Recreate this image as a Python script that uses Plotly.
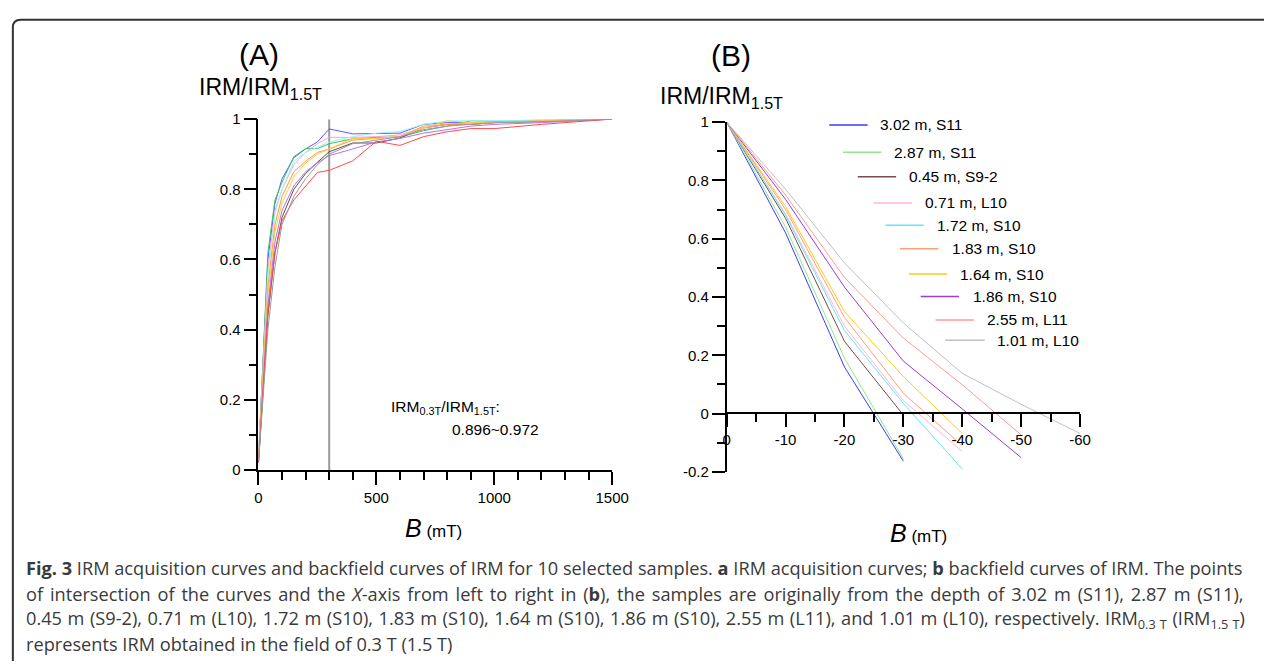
import plotly.graph_objects as go

W, H = 1281, 669

# ---------------- data ----------------
samples = ["3.02 m, S11", "2.87 m, S11", "0.45 m, S9-2", "0.71 m, L10", "1.72 m, S10",
           "1.83 m, S10", "1.64 m, S10", "1.86 m, S10", "2.55 m, L11", "1.01 m, L10"]

# Panel A: IRM acquisition (field in mT)
fields_a = [0, 20, 40, 70, 100, 150, 200, 250, 300, 400, 500, 600, 700, 800, 900, 1000, 1200, 1500]
irm_302 = [0.03, 0.31, 0.60, 0.76, 0.83, 0.89, 0.915, 0.935, 0.972, 0.958, 0.958, 0.960, 0.985, 0.990, 0.990, 0.992, 0.995, 1.0]
irm_287 = [0.03, 0.33, 0.62, 0.77, 0.82, 0.893, 0.916, 0.916, 0.930, 0.944, 0.948, 0.949, 0.967, 0.980, 0.995, 0.995, 0.997, 1.0]
irm_045 = [0.02, 0.22, 0.44, 0.62, 0.72, 0.80, 0.845, 0.877, 0.907, 0.932, 0.932, 0.946, 0.975, 0.985, 0.985, 0.990, 0.993, 1.0]
irm_071 = [0.03, 0.29, 0.57, 0.74, 0.80, 0.87, 0.905, 0.930, 0.948, 0.948, 0.950, 0.955, 0.975, 0.985, 0.990, 0.992, 0.995, 1.0]
irm_172 = [0.03, 0.28, 0.55, 0.73, 0.80, 0.88, 0.905, 0.920, 0.935, 0.950, 0.960, 0.965, 0.985, 0.995, 0.995, 0.995, 0.997, 1.0]
irm_183 = [0.03, 0.26, 0.52, 0.70, 0.78, 0.85, 0.880, 0.905, 0.915, 0.940, 0.945, 0.950, 0.980, 0.985, 0.985, 0.990, 0.995, 1.0]
irm_164 = [0.03, 0.25, 0.50, 0.68, 0.76, 0.835, 0.875, 0.900, 0.915, 0.945, 0.945, 0.950, 0.975, 0.995, 0.990, 0.990, 0.995, 1.0]
irm_186 = [0.02, 0.24, 0.47, 0.65, 0.74, 0.81, 0.850, 0.875, 0.896, 0.915, 0.935, 0.945, 0.960, 0.970, 0.980, 0.985, 0.990, 1.0]
irm_255 = [0.02, 0.23, 0.45, 0.62, 0.71, 0.77, 0.810, 0.848, 0.854, 0.881, 0.937, 0.925, 0.950, 0.964, 0.973, 0.973, 0.985, 1.0]
irm_101 = [0.02, 0.20, 0.40, 0.58, 0.70, 0.78, 0.830, 0.870, 0.900, 0.930, 0.940, 0.950, 0.970, 0.980, 0.985, 0.990, 0.993, 1.0]
irm_series = [irm_302, irm_287, irm_045, irm_071, irm_172, irm_183, irm_164, irm_186, irm_255, irm_101]

# Panel B: backfield (field in mT)
fields_b = [0, -10, -20, -30, -40, -50, -60]
bf_302 = [1.0, 0.62, 0.160, -0.163]
bf_287 = [1.0, 0.64, 0.190, -0.155]
bf_045 = [1.0, 0.67, 0.248, -0.005]
bf_071 = [1.0, 0.685, 0.300, 0.045, -0.130]
bf_172 = [1.0, 0.68, 0.285, 0.035, -0.190]
bf_183 = [1.0, 0.70, 0.330, 0.070, -0.110]
bf_164 = [1.0, 0.71, 0.350, 0.127, -0.068]
bf_186 = [1.0, 0.735, 0.434, 0.180, 0.016, -0.151]
bf_255 = [1.0, 0.75, 0.467, 0.259, 0.099, -0.073]
bf_101 = [1.0, 0.77, 0.517, 0.311, 0.138, 0.032, -0.068]
bf_series = [bf_302, bf_287, bf_045, bf_071, bf_172, bf_183, bf_164, bf_186, bf_255, bf_101]

# ticks
xa_ticks = [0, 500, 1000, 1500]
xa_ticklabels = ["0", "500", "1000", "1500"]
ya_ticks = [0, 0.2, 0.4, 0.6, 0.8, 1]
ya_ticklabels = ["0", "0.2", "0.4", "0.6", "0.8", "1"]
xb_ticks = [0, -10, -20, -30, -40, -50, -60]
xb_ticklabels = ["0", "-10", "-20", "-30", "-40", "-50", "-60"]
yb_ticks = [-0.2, 0, 0.2, 0.4, 0.6, 0.8, 1]
yb_ticklabels = ["-0.2", "0", "0.2", "0.4", "0.6", "0.8", "1"]
field_03T = 300

# ---------------- style ----------------
col_a = ["#5a5aff", "#3cbf6a", "#505050", "#ff9fd0", "#9af5f5", "#ff9a3c", "#ffcc44", "#bb6ef0", "#ff4a4a", "#9a9a9a"]
col_b = ["#3b3bff", "#8ee88e", "#7a4a4a", "#ffb6dc", "#5fe8f5", "#ff9f78", "#ffcc11", "#9b3bd8", "#ff9a9a", "#c0c0c0"]
FONT = "Liberation Sans, Arial, sans-serif"


def px(x):
    return x / W


def py(y):
    return 1 - y / H


fig = go.Figure()

for s, c, name in zip(irm_series, col_a, samples):
    fig.add_trace(go.Scatter(x=fields_a[:len(s)], y=s, mode="lines", line=dict(color=c, width=1),
                             name=name, showlegend=False, xaxis="x", yaxis="y"))

for s, c, name in zip(bf_series, col_b, samples):
    fig.add_trace(go.Scatter(x=fields_b[:len(s)], y=s, mode="lines", line=dict(color=c, width=1),
                             name=name, showlegend=False, xaxis="x2", yaxis="y2"))

axis_common = dict(showgrid=False, zeroline=False, showline=True, linecolor="black", linewidth=1.5,
                   ticks="outside", ticklen=13, tickwidth=1.5, tickcolor="black",
                   tickfont=dict(family=FONT, size=15, color="black"))

fig.update_layout(
    width=W, height=H,
    margin=dict(l=0, r=0, t=0, b=0),
    paper_bgcolor="white", plot_bgcolor="rgba(0,0,0,0)",
    xaxis=dict(domain=[px(258.7), px(618.3)], range=[0, 1500], anchor="y",
               tickmode="array", tickvals=xa_ticks, ticktext=xa_ticklabels,
               minor=dict(tickvals=list(range(100, 1500, 100)), ticklen=8, tickwidth=1.5,
                          tickcolor="black", ticks="outside"),
               **axis_common),
    yaxis=dict(domain=[py(473), py(113)], range=[0, 1], anchor="x",
               tickmode="array", tickvals=ya_ticks, ticktext=ya_ticklabels,
               minor=dict(tickvals=[0.1, 0.3, 0.5, 0.7, 0.9], ticklen=8, tickwidth=1.5,
                          tickcolor="black", ticks="outside"),
               **axis_common),
    xaxis2=dict(domain=[px(734.7), px(1094)], range=[0, -60], anchor="free", position=py(414.7),
                tickmode="array", tickvals=xb_ticks, ticktext=xb_ticklabels,
                minor=dict(tickvals=[-5, -15, -25, -35, -45, -55], ticklen=8, tickwidth=1.5,
                           tickcolor="black", ticks="outside"),
                **axis_common),
    yaxis2=dict(domain=[py(475), py(116)], range=[-0.2, 1], anchor="x2",
                tickmode="array", tickvals=yb_ticks, ticktext=yb_ticklabels,
                minor=dict(tickvals=[-0.1, 0.1, 0.3, 0.5, 0.7, 0.9], ticklen=8, tickwidth=1.5,
                           tickcolor="black", ticks="outside"),
                **axis_common),
)

shapes = []
# vertical 0.3 T line in panel A
shapes.append(dict(type="line", xref="x", yref="y", x0=field_03T, x1=field_03T, y0=0, y1=1,
                   line=dict(color="#9a9a9a", width=2), layer="below"))
# frame (left + top with rounded corner)
r = 8
path = (f"M {px(9)} {py(669)} L {px(9)} {py(11 + r)} "
        f"Q {px(9)} {py(11)} {px(9 + r)} {py(11)} L {px(1281)} {py(11)}")
shapes.append(dict(type="path", xref="paper", yref="paper", path=path,
                   line=dict(color="#333333", width=2)))

annotations = []


def ann(text, x, y, size=14, xanchor="left", yanchor="middle", family=FONT, color="black"):
    annotations.append(dict(text=text, x=px(x), y=py(y), xref="paper", yref="paper",
                            xanchor=xanchor, yanchor=yanchor, showarrow=False,
                            font=dict(family=family, size=size, color=color)))


# panel labels and y titles
ann("(A)", 259, 47, size=30, xanchor="center")
ann("(B)", 739, 48, size=30, xanchor="center")
ann("IRM/IRM<sub>1.5T</sub>", 196, 82, size=23)
ann("IRM/IRM<sub>1.5T</sub>", 665, 91, size=23)

# x titles
ann("<i>B</i><span style='font-size:17px'> (mT)</span>", 437, 533, size=25, xanchor="center")
ann("<i>B</i><span style='font-size:17px'> (mT)</span>", 930, 538, size=25, xanchor="center")

# annotation panel A
ann("IRM<sub>0.3T</sub>/IRM<sub>1.5T</sub>:", 391, 409, size=15.5)
ann("0.896~0.972", 453, 431, size=15.5)

# legend panel B
leg_lines = [(839, 878, 119), (853, 892, 147), (868, 907, 172), (884, 923, 199), (896, 935, 222),
             (911, 950, 246), (920, 959, 272), (932, 971, 295), (947, 986, 319), (957, 997, 340)]
leg_text_x = [889, 903, 918, 934, 947, 962, 970, 983, 997, 1008]
for (x0, x1, yy), tx, c, name in zip(leg_lines, leg_text_x, col_b, samples):
    shapes.append(dict(type="line", xref="paper", yref="paper", x0=px(x0), x1=px(x1), y0=py(yy), y1=py(yy),
                       line=dict(color=c, width=1.5)))
    ann(name, tx, yy, size=15.5)

# caption (justified via word spacing)
CAP = "Open Sans, sans-serif"
capc = "#3a3a3a"
cap_lines = [
    "<b>Fig. 3</b> IRM acquisition curves and backfield curves of IRM for 10 selected samples. <b>a</b> IRM acquisition curves; <b>b</b> backfield curves of IRM. The points",
    "of intersection of the curves and the <i>X</i>-axis from left to right in (<b>b</b>), the samples are originally from the depth of 3.02 m (S11), 2.87 m (S11),",
    "0.45 m (S9-2), 0.71 m (L10), 1.72 m (S10), 1.83 m (S10), 1.64 m (S10), 1.86 m (S10), 2.55 m (L11), and 1.01 m (L10), respectively. IRM<sub>0.3 T</sub> (IRM<sub>1.5 T</sub>)",
    "represents IRM obtained in the field of 0.3 T (1.5 T)",
]
cap_wordspace = [0, 2.15, 0.85, 0]
cap_y = [574, 600, 626, 652]
for t, ws, yy in zip(cap_lines, cap_wordspace, cap_y):
    txt = f"<span style='word-spacing:{ws}px'>{t}</span>" if ws else t
    ann(txt, 20, yy, size=18.2, family=CAP, color=capc)

fig.update_layout(shapes=shapes, annotations=annotations)
fig.write_html("out.html", config={"displayModeBar": False},
               post_script="document.body.style.margin='0px';document.body.style.overflow='hidden';")
